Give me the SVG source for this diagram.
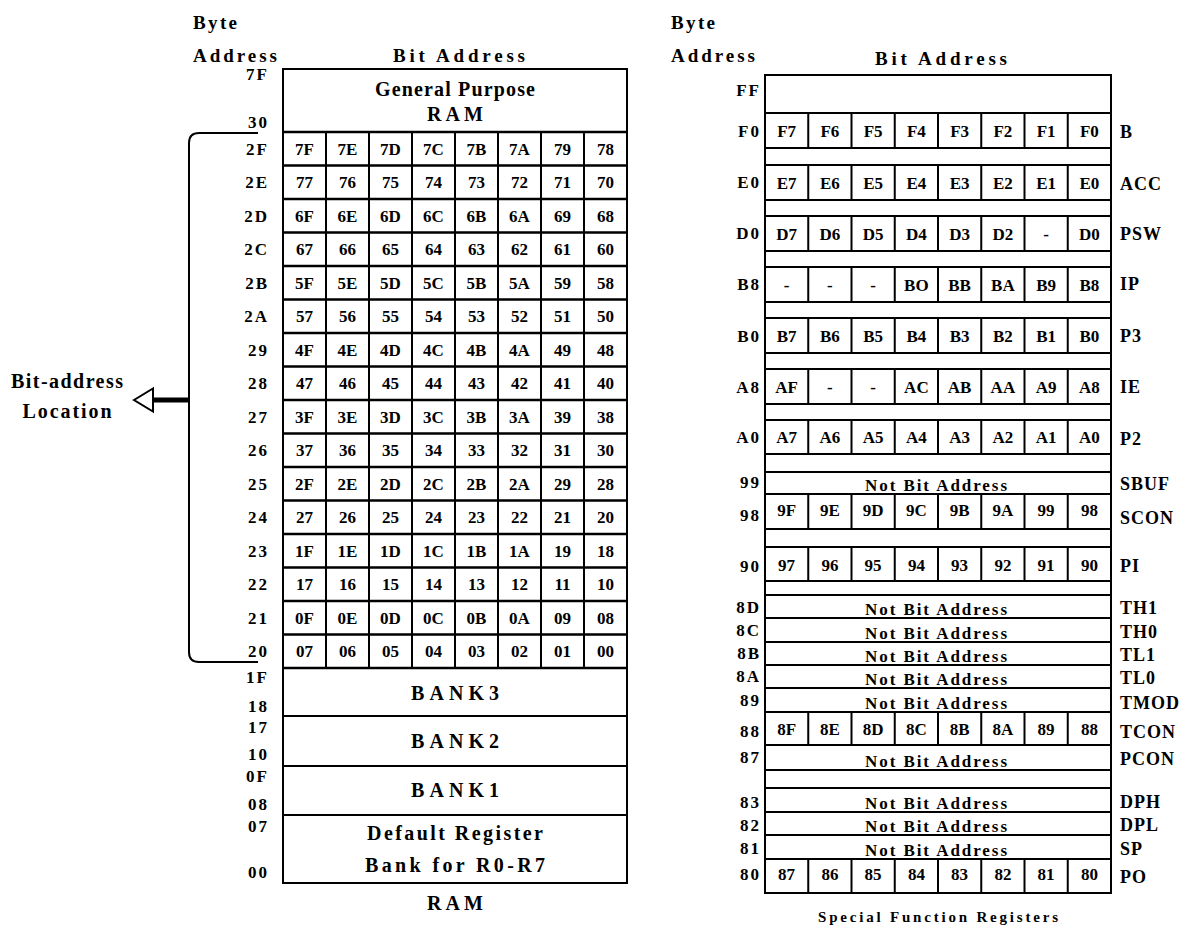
<svg xmlns="http://www.w3.org/2000/svg" width="1182" height="927" viewBox="0 0 1182 927">
<style>
.f{font-family:"Liberation Serif","Times New Roman",serif;font-weight:bold;fill:#000}
.c{font-size:17px;text-anchor:middle}
.a{font-size:17px;text-anchor:end;letter-spacing:2px}
.r{font-size:18px;text-anchor:start;letter-spacing:1px}
.h{font-size:19px}
.m{font-size:20px;text-anchor:middle}
.n{font-size:17px;text-anchor:middle}
.ln{stroke:#000;stroke-width:2;fill:none}
.lt{stroke:#000;stroke-width:2.5;fill:none}
</style>
<rect width="1182" height="927" fill="#fff"/>

<!-- ========== LEFT: RAM ========== -->
<g id="ram-headers" class="f">
<text class="h" x="193" y="29" textLength="44" lengthAdjust="spacing">Byte</text>
<text class="h" x="193" y="62" textLength="84" lengthAdjust="spacing">Address</text>
<text class="h" x="459" y="62" text-anchor="middle" textLength="132" lengthAdjust="spacing">Bit Address</text>
<text class="m" x="455" y="910" textLength="56" lengthAdjust="spacing">RAM</text>
</g>

<g id="ram-table">
<rect class="ln" x="283" y="69" width="344" height="814"/>
<path class="lt" d="M283 132H627" stroke-width="3"/>
<path class="lt" d="M283 165.5H627M283 199H627M283 232.5H627M283 266H627M283 299.5H627M283 333H627M283 366.5H627M283 400H627M283 433.5H627M283 467H627M283 500.5H627M283 534H627M283 567.5H627M283 601H627M283 634.5H627M283 668H627"/>
<path class="ln" d="M283 716H627M283 766H627M283 815H627"/>
<path class="ln" d="M326 132V668M369 132V668M412 132V668M455 132V668M498 132V668M541 132V668M584 132V668"/>
</g>

<g id="ram-general" class="f">
<text class="m" x="455" y="96" textLength="160" lengthAdjust="spacing">General Purpose</text>
<text class="m" x="455" y="121" textLength="56" lengthAdjust="spacing">RAM</text>
<text class="a" x="269" y="80">7F</text>
<text class="a" x="269" y="128">30</text>
</g>

<g id="ram-bitrows" class="f">
<g id="row-2F"><text class="a" x="269" y="154.5">2F</text><text class="c" y="154.5"><tspan x="304.5">7F</tspan><tspan x="347.5">7E</tspan><tspan x="390.5">7D</tspan><tspan x="433.5">7C</tspan><tspan x="476.5">7B</tspan><tspan x="519.5">7A</tspan><tspan x="562.5">79</tspan><tspan x="605.5">78</tspan></text></g>
<g id="row-2E"><text class="a" x="269" y="188">2E</text><text class="c" y="188"><tspan x="304.5">77</tspan><tspan x="347.5">76</tspan><tspan x="390.5">75</tspan><tspan x="433.5">74</tspan><tspan x="476.5">73</tspan><tspan x="519.5">72</tspan><tspan x="562.5">71</tspan><tspan x="605.5">70</tspan></text></g>
<g id="row-2D"><text class="a" x="269" y="221.5">2D</text><text class="c" y="221.5"><tspan x="304.5">6F</tspan><tspan x="347.5">6E</tspan><tspan x="390.5">6D</tspan><tspan x="433.5">6C</tspan><tspan x="476.5">6B</tspan><tspan x="519.5">6A</tspan><tspan x="562.5">69</tspan><tspan x="605.5">68</tspan></text></g>
<g id="row-2C"><text class="a" x="269" y="255">2C</text><text class="c" y="255"><tspan x="304.5">67</tspan><tspan x="347.5">66</tspan><tspan x="390.5">65</tspan><tspan x="433.5">64</tspan><tspan x="476.5">63</tspan><tspan x="519.5">62</tspan><tspan x="562.5">61</tspan><tspan x="605.5">60</tspan></text></g>
<g id="row-2B"><text class="a" x="269" y="288.5">2B</text><text class="c" y="288.5"><tspan x="304.5">5F</tspan><tspan x="347.5">5E</tspan><tspan x="390.5">5D</tspan><tspan x="433.5">5C</tspan><tspan x="476.5">5B</tspan><tspan x="519.5">5A</tspan><tspan x="562.5">59</tspan><tspan x="605.5">58</tspan></text></g>
<g id="row-2A"><text class="a" x="269" y="322">2A</text><text class="c" y="322"><tspan x="304.5">57</tspan><tspan x="347.5">56</tspan><tspan x="390.5">55</tspan><tspan x="433.5">54</tspan><tspan x="476.5">53</tspan><tspan x="519.5">52</tspan><tspan x="562.5">51</tspan><tspan x="605.5">50</tspan></text></g>
<g id="row-29"><text class="a" x="269" y="355.5">29</text><text class="c" y="355.5"><tspan x="304.5">4F</tspan><tspan x="347.5">4E</tspan><tspan x="390.5">4D</tspan><tspan x="433.5">4C</tspan><tspan x="476.5">4B</tspan><tspan x="519.5">4A</tspan><tspan x="562.5">49</tspan><tspan x="605.5">48</tspan></text></g>
<g id="row-28"><text class="a" x="269" y="389">28</text><text class="c" y="389"><tspan x="304.5">47</tspan><tspan x="347.5">46</tspan><tspan x="390.5">45</tspan><tspan x="433.5">44</tspan><tspan x="476.5">43</tspan><tspan x="519.5">42</tspan><tspan x="562.5">41</tspan><tspan x="605.5">40</tspan></text></g>
<g id="row-27"><text class="a" x="269" y="422.5">27</text><text class="c" y="422.5"><tspan x="304.5">3F</tspan><tspan x="347.5">3E</tspan><tspan x="390.5">3D</tspan><tspan x="433.5">3C</tspan><tspan x="476.5">3B</tspan><tspan x="519.5">3A</tspan><tspan x="562.5">39</tspan><tspan x="605.5">38</tspan></text></g>
<g id="row-26"><text class="a" x="269" y="456">26</text><text class="c" y="456"><tspan x="304.5">37</tspan><tspan x="347.5">36</tspan><tspan x="390.5">35</tspan><tspan x="433.5">34</tspan><tspan x="476.5">33</tspan><tspan x="519.5">32</tspan><tspan x="562.5">31</tspan><tspan x="605.5">30</tspan></text></g>
<g id="row-25"><text class="a" x="269" y="489.5">25</text><text class="c" y="489.5"><tspan x="304.5">2F</tspan><tspan x="347.5">2E</tspan><tspan x="390.5">2D</tspan><tspan x="433.5">2C</tspan><tspan x="476.5">2B</tspan><tspan x="519.5">2A</tspan><tspan x="562.5">29</tspan><tspan x="605.5">28</tspan></text></g>
<g id="row-24"><text class="a" x="269" y="523">24</text><text class="c" y="523"><tspan x="304.5">27</tspan><tspan x="347.5">26</tspan><tspan x="390.5">25</tspan><tspan x="433.5">24</tspan><tspan x="476.5">23</tspan><tspan x="519.5">22</tspan><tspan x="562.5">21</tspan><tspan x="605.5">20</tspan></text></g>
<g id="row-23"><text class="a" x="269" y="556.5">23</text><text class="c" y="556.5"><tspan x="304.5">1F</tspan><tspan x="347.5">1E</tspan><tspan x="390.5">1D</tspan><tspan x="433.5">1C</tspan><tspan x="476.5">1B</tspan><tspan x="519.5">1A</tspan><tspan x="562.5">19</tspan><tspan x="605.5">18</tspan></text></g>
<g id="row-22"><text class="a" x="269" y="590">22</text><text class="c" y="590"><tspan x="304.5">17</tspan><tspan x="347.5">16</tspan><tspan x="390.5">15</tspan><tspan x="433.5">14</tspan><tspan x="476.5">13</tspan><tspan x="519.5">12</tspan><tspan x="562.5">11</tspan><tspan x="605.5">10</tspan></text></g>
<g id="row-21"><text class="a" x="269" y="623.5">21</text><text class="c" y="623.5"><tspan x="304.5">0F</tspan><tspan x="347.5">0E</tspan><tspan x="390.5">0D</tspan><tspan x="433.5">0C</tspan><tspan x="476.5">0B</tspan><tspan x="519.5">0A</tspan><tspan x="562.5">09</tspan><tspan x="605.5">08</tspan></text></g>
<g id="row-20"><text class="a" x="269" y="657">20</text><text class="c" y="657"><tspan x="304.5">07</tspan><tspan x="347.5">06</tspan><tspan x="390.5">05</tspan><tspan x="433.5">04</tspan><tspan x="476.5">03</tspan><tspan x="519.5">02</tspan><tspan x="562.5">01</tspan><tspan x="605.5">00</tspan></text></g>
</g>

<g id="ram-banks" class="f">
<g id="bank3"><text class="a" x="269" y="683">1F</text><text class="a" x="269" y="712">18</text><text class="m" x="455" y="700" textLength="88" lengthAdjust="spacing">BANK3</text></g>
<g id="bank2"><text class="a" x="269" y="733">17</text><text class="a" x="269" y="760">10</text><text class="m" x="455" y="748" textLength="88" lengthAdjust="spacing">BANK2</text></g>
<g id="bank1"><text class="a" x="269" y="782">0F</text><text class="a" x="269" y="810">08</text><text class="m" x="455" y="797" textLength="88" lengthAdjust="spacing">BANK1</text></g>
<g id="bank0"><text class="a" x="269" y="832">07</text><text class="a" x="269" y="878">00</text><text class="m" x="455" y="840" textLength="176" lengthAdjust="spacing">Default Register</text><text class="m" x="455" y="872" textLength="180" lengthAdjust="spacing">Bank for R0-R7</text></g>
</g>

<g id="bit-address-location" class="f">
<text class="m" x="67" y="388" font-size="19" textLength="112" lengthAdjust="spacing">Bit-address</text>
<text class="m" x="67" y="418" font-size="19" textLength="89" lengthAdjust="spacing">Location</text>
</g>

<g id="connectors">
<path class="ln" d="M258 133H199Q189 133 189 143V652Q189 662 199 662H258"/>
<path d="M152 400H189" stroke="#000" stroke-width="5"/>
<polygon points="134,400 153,388.5 153,411.5" fill="#fff" stroke="#000" stroke-width="2"/>
</g>

<!-- ========== RIGHT: SFR ========== -->
<g id="sfr-headers" class="f">
<text class="h" x="671" y="29" textLength="44" lengthAdjust="spacing">Byte</text>
<text class="h" x="671" y="62" textLength="84" lengthAdjust="spacing">Address</text>
<text class="h" x="941" y="65" text-anchor="middle" textLength="132" lengthAdjust="spacing">Bit Address</text>
<text x="938" y="922" font-size="15" text-anchor="middle" textLength="240" lengthAdjust="spacing">Special Function Registers</text>
</g>

<g id="sfr-table">
<rect class="ln" x="765" y="75" width="346" height="818"/>
<path class="ln" d="M765 113H1111M765 148H1111M765 165H1111M765 200H1111M765 216H1111M765 251H1111M765 267H1111M765 302H1111M765 318H1111M765 353H1111M765 369H1111M765 404H1111M765 420H1111M765 454H1111M765 472H1111M765 494H1111M765 529H1111M765 547H1111M765 581H1111M765 595H1111M765 618H1111M765 642H1111M765 665H1111M765 688H1111M765 712H1111M765 745H1111M765 770H1111M765 788H1111M765 812H1111M765 835H1111M765 859H1111"/>
<path class="ln" d="M808.25 113V148M851.5 113V148M894.75 113V148M938 113V148M981.25 113V148M1024.5 113V148M1067.75 113V148
M808.25 165V200M851.5 165V200M894.75 165V200M938 165V200M981.25 165V200M1024.5 165V200M1067.75 165V200
M808.25 216V251M851.5 216V251M894.75 216V251M938 216V251M981.25 216V251M1024.5 216V251M1067.75 216V251
M808.25 267V302M851.5 267V302M894.75 267V302M938 267V302M981.25 267V302M1024.5 267V302M1067.75 267V302
M808.25 318V353M851.5 318V353M894.75 318V353M938 318V353M981.25 318V353M1024.5 318V353M1067.75 318V353
M808.25 369V404M851.5 369V404M894.75 369V404M938 369V404M981.25 369V404M1024.5 369V404M1067.75 369V404
M808.25 420V454M851.5 420V454M894.75 420V454M938 420V454M981.25 420V454M1024.5 420V454M1067.75 420V454
M808.25 494V529M851.5 494V529M894.75 494V529M938 494V529M981.25 494V529M1024.5 494V529M1067.75 494V529
M808.25 547V581M851.5 547V581M894.75 547V581M938 547V581M981.25 547V581M1024.5 547V581M1067.75 547V581
M808.25 712V745M851.5 712V745M894.75 712V745M938 712V745M981.25 712V745M1024.5 712V745M1067.75 712V745
M808.25 859V893M851.5 859V893M894.75 859V893M938 859V893M981.25 859V893M1024.5 859V893M1067.75 859V893"/>
</g>

<g id="sfr-rows" class="f">
<g id="sfr-FF"><text class="a" x="761" y="96">FF</text></g>
<g id="sfr-B"><text class="a" x="761" y="137">F0</text><text class="c" y="137"><tspan x="786.6">F7</tspan><tspan x="829.9">F6</tspan><tspan x="873.1">F5</tspan><tspan x="916.4">F4</tspan><tspan x="959.6">F3</tspan><tspan x="1002.9">F2</tspan><tspan x="1046.1">F1</tspan><tspan x="1089.4">F0</tspan></text><text class="r" x="1120" y="138">B</text></g>
<g id="sfr-ACC"><text class="a" x="761" y="188">E0</text><text class="c" y="188.5"><tspan x="786.6">E7</tspan><tspan x="829.9">E6</tspan><tspan x="873.1">E5</tspan><tspan x="916.4">E4</tspan><tspan x="959.6">E3</tspan><tspan x="1002.9">E2</tspan><tspan x="1046.1">E1</tspan><tspan x="1089.4">E0</tspan></text><text class="r" x="1120" y="190">ACC</text></g>
<g id="sfr-PSW"><text class="a" x="761" y="239">D0</text><text class="c" y="239.5"><tspan x="786.6">D7</tspan><tspan x="829.9">D6</tspan><tspan x="873.1">D5</tspan><tspan x="916.4">D4</tspan><tspan x="959.6">D3</tspan><tspan x="1002.9">D2</tspan><tspan x="1046.1">-</tspan><tspan x="1089.4">D0</tspan></text><text class="r" x="1120" y="240">PSW</text></g>
<g id="sfr-IP"><text class="a" x="761" y="290">B8</text><text class="c" y="290.5"><tspan x="786.6">-</tspan><tspan x="829.9">-</tspan><tspan x="873.1">-</tspan><tspan x="916.4">BO</tspan><tspan x="959.6">BB</tspan><tspan x="1002.9">BA</tspan><tspan x="1046.1">B9</tspan><tspan x="1089.4">B8</tspan></text><text class="r" x="1120" y="290">IP</text></g>
<g id="sfr-P3"><text class="a" x="761" y="342">B0</text><text class="c" y="341.5"><tspan x="786.6">B7</tspan><tspan x="829.9">B6</tspan><tspan x="873.1">B5</tspan><tspan x="916.4">B4</tspan><tspan x="959.6">B3</tspan><tspan x="1002.9">B2</tspan><tspan x="1046.1">B1</tspan><tspan x="1089.4">B0</tspan></text><text class="r" x="1120" y="342">P3</text></g>
<g id="sfr-IE"><text class="a" x="761" y="393">A8</text><text class="c" y="392.5"><tspan x="786.6">AF</tspan><tspan x="829.9">-</tspan><tspan x="873.1">-</tspan><tspan x="916.4">AC</tspan><tspan x="959.6">AB</tspan><tspan x="1002.9">AA</tspan><tspan x="1046.1">A9</tspan><tspan x="1089.4">A8</tspan></text><text class="r" x="1120" y="393">IE</text></g>
<g id="sfr-P2"><text class="a" x="761" y="443">A0</text><text class="c" y="443"><tspan x="786.6">A7</tspan><tspan x="829.9">A6</tspan><tspan x="873.1">A5</tspan><tspan x="916.4">A4</tspan><tspan x="959.6">A3</tspan><tspan x="1002.9">A2</tspan><tspan x="1046.1">A1</tspan><tspan x="1089.4">A0</tspan></text><text class="r" x="1120" y="445">P2</text></g>
<g id="sfr-SBUF"><text class="a" x="761" y="488">99</text><text class="n" x="936" y="491" textLength="142" lengthAdjust="spacing">Not Bit Address</text><text class="r" x="1120" y="490">SBUF</text></g>
<g id="sfr-SCON"><text class="a" x="761" y="521">98</text><text class="c" y="516"><tspan x="786.6">9F</tspan><tspan x="829.9">9E</tspan><tspan x="873.1">9D</tspan><tspan x="916.4">9C</tspan><tspan x="959.6">9B</tspan><tspan x="1002.9">9A</tspan><tspan x="1046.1">99</tspan><tspan x="1089.4">98</tspan></text><text class="r" x="1120" y="524">SCON</text></g>
<g id="sfr-P1"><text class="a" x="761" y="572">90</text><text class="c" y="571"><tspan x="786.6">97</tspan><tspan x="829.9">96</tspan><tspan x="873.1">95</tspan><tspan x="916.4">94</tspan><tspan x="959.6">93</tspan><tspan x="1002.9">92</tspan><tspan x="1046.1">91</tspan><tspan x="1089.4">90</tspan></text><text class="r" x="1120" y="572">PI</text></g>
<g id="sfr-TH1"><text class="a" x="761" y="613">8D</text><text class="n" x="936" y="615" textLength="142" lengthAdjust="spacing">Not Bit Address</text><text class="r" x="1120" y="614">TH1</text></g>
<g id="sfr-TH0"><text class="a" x="761" y="636">8C</text><text class="n" x="936" y="639" textLength="142" lengthAdjust="spacing">Not Bit Address</text><text class="r" x="1120" y="638">TH0</text></g>
<g id="sfr-TL1"><text class="a" x="761" y="659">8B</text><text class="n" x="936" y="662" textLength="142" lengthAdjust="spacing">Not Bit Address</text><text class="r" x="1120" y="661">TL1</text></g>
<g id="sfr-TL0"><text class="a" x="761" y="682">8A</text><text class="n" x="936" y="685" textLength="142" lengthAdjust="spacing">Not Bit Address</text><text class="r" x="1120" y="684">TL0</text></g>
<g id="sfr-TMOD"><text class="a" x="761" y="706">89</text><text class="n" x="936" y="709" textLength="142" lengthAdjust="spacing">Not Bit Address</text><text class="r" x="1120" y="709">TMOD</text></g>
<g id="sfr-TCON"><text class="a" x="761" y="737">88</text><text class="c" y="735"><tspan x="786.6">8F</tspan><tspan x="829.9">8E</tspan><tspan x="873.1">8D</tspan><tspan x="916.4">8C</tspan><tspan x="959.6">8B</tspan><tspan x="1002.9">8A</tspan><tspan x="1046.1">89</tspan><tspan x="1089.4">88</tspan></text><text class="r" x="1120" y="738">TCON</text></g>
<g id="sfr-PCON"><text class="a" x="761" y="763">87</text><text class="n" x="936" y="767" textLength="142" lengthAdjust="spacing">Not Bit Address</text><text class="r" x="1120" y="765">PCON</text></g>
<g id="sfr-DPH"><text class="a" x="761" y="808">83</text><text class="n" x="936" y="809" textLength="142" lengthAdjust="spacing">Not Bit Address</text><text class="r" x="1120" y="808">DPH</text></g>
<g id="sfr-DPL"><text class="a" x="761" y="831">82</text><text class="n" x="936" y="832" textLength="142" lengthAdjust="spacing">Not Bit Address</text><text class="r" x="1120" y="831">DPL</text></g>
<g id="sfr-SP"><text class="a" x="761" y="854">81</text><text class="n" x="936" y="856" textLength="142" lengthAdjust="spacing">Not Bit Address</text><text class="r" x="1120" y="855">SP</text></g>
<g id="sfr-P0"><text class="a" x="761" y="880">80</text><text class="c" y="880"><tspan x="786.6">87</tspan><tspan x="829.9">86</tspan><tspan x="873.1">85</tspan><tspan x="916.4">84</tspan><tspan x="959.6">83</tspan><tspan x="1002.9">82</tspan><tspan x="1046.1">81</tspan><tspan x="1089.4">80</tspan></text><text class="r" x="1120" y="883">PO</text></g>
</g>
</svg>
